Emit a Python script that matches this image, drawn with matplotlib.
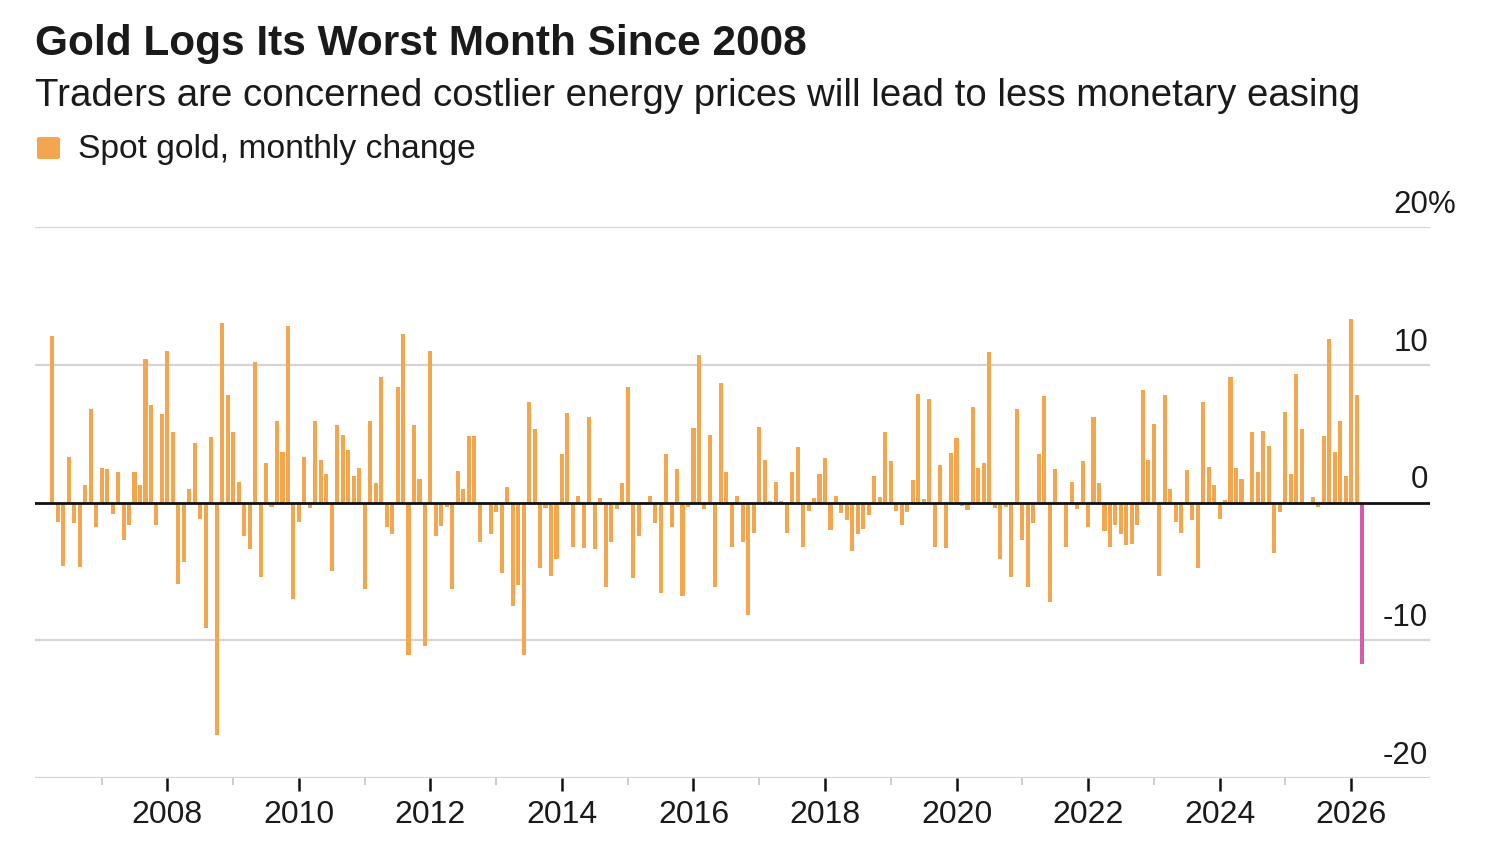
import numpy as np
import pandas as pd
import matplotlib
matplotlib.use("Agg")
import matplotlib.pyplot as plt
from matplotlib.patches import FancyBboxPatch

plt.rcParams['font.family'] = ['Liberation Sans', 'DejaVu Sans']

# ---------------- data ----------------
start_month = "2006-04-01"
monthly_change = [
    12.1, -1.4, -4.6, 3.3, -1.5, -4.7, 1.3, 6.8, -1.8, 2.5, 2.4, -0.8, 2.2, -2.7, -1.6, 2.2, 1.3, 10.4, 7.1, -1.6, 6.4,
    11.0, 5.1, -5.9, -4.3, 1.0, 4.3, -1.2, -9.1, 4.75, -16.9, 13.0, 7.8, 5.1, 1.5, -2.4, -3.4, 10.2, -5.4, 2.9,
    -0.3, 5.9, 3.7, 12.8, -7.0, -1.4, 3.3, -0.4, 5.9, 3.1, 2.1, -5.0, 5.6, 4.9, 3.8, 1.9, 2.5, -6.3, 5.9, 1.4, 9.1,
    -1.8, -2.3, 8.4, 12.2, -11.1, 5.6, 1.7, -10.4, 11.0, -2.4, -1.7, -0.3, -6.3, 2.3, 1.0, 4.8, 4.8, -2.9, -0.2, -2.3, -0.7,
    -5.1, 1.1, -7.5, -6.0, -11.05, 7.3, 5.3, -4.75, -0.4, -5.3, -4.1, 3.5, 6.5, -3.2, 0.5, -3.3, 6.2, -3.4, 0.3, -6.1, -2.9,
    -0.5, 1.4, 8.4, -5.5, -2.4, -0.1, 0.5, -1.5, -6.6, 3.5, -1.8, 2.4, -6.8, -0.3, 5.4, 10.7, -0.5, 4.9, -6.1, 8.7, 2.2,
    -3.2, 0.5, -2.9, -8.2, -2.2, 5.5, 3.1, 0.1, 1.5, 0.1, -2.2, 2.2, 4.0, -3.2, -0.6, 0.3, 2.1, 3.2, -2.0, 0.5, -0.75,
    -1.3, -3.5, -2.3, -1.9, -0.9, 1.9, 0.4, 5.1, 3.0, -0.6, -1.6, -0.7, 1.6, 7.9, 0.25, 7.5, -3.2, 2.7, -3.3, 3.6, 4.7,
    -0.25, -0.55, 6.9, 2.5, 2.9, 10.9, -0.4, -4.1, -0.3, -5.4, 6.8, -2.7, -6.1, -1.5, 3.5, 7.7, -7.2, 2.4, -0.05, -3.2, 1.5,
    -0.5, 3.0, -1.8, 6.2, 1.4, -2.1, -3.2, -1.6, -2.3, -3.1, -3.0, -1.6, 8.2, 3.1, 5.7, -5.3, 7.8, 1.0, -1.4, -2.2, 2.35,
    -1.3, -4.75, 7.3, 2.6, 1.3, -1.2, 0.2, 9.1, 2.5, 1.7, 0.0, 5.1, 2.2, 5.2, 4.1, -3.7, -0.7, 6.6, 2.1, 9.3, 5.3,
    0.0, 0.4, -0.3, 4.8, 11.9, 3.7, 5.9, 1.9, 13.3, 7.8, -11.7,
]
months = pd.date_range(start_month, periods=len(monthly_change), freq="MS")
y_ticks = [-20, -10, 0, 10, 20]
y_tick_labels = ["-20", "-10", "0", "10", "20"]
major_years = list(range(2008, 2027, 2))

title = "Gold Logs Its Worst Month Since 2008"
subtitle = "Traders are concerned costlier energy prices will lead to less monetary easing"
legend_label = "Spot gold, monthly change"

ORANGE = "#F4A64E"
PINK = "#D65BB0"
TEXT = "#1a1a1a"
GRID = "#d4d4d4"

W, H = 1500, 850
fig = plt.figure(figsize=(W / 100, H / 100), dpi=100)
fig.patch.set_facecolor("white")

ax = fig.add_axes([35 / W, 1 - 778 / H, (1430 - 35) / W, (778 - 227) / H])
x = np.arange(len(monthly_change))
colors = [ORANGE] * (len(monthly_change) - 1) + [PINK]
ax.bar(x, monthly_change, width=0.74, color=colors, zorder=3, linewidth=0)

ax.set_xlim(-3.16, 251.4)
ax.set_ylim(-20, 20)
for s in ax.spines.values():
    s.set_visible(False)

for v in y_ticks:
    if v == 0:
        ax.axhline(v, color="#111111", lw=2.0, zorder=4)
    else:
        ax.axhline(v, color=GRID, lw=1.6, zorder=1)

ax.set_yticks([])
ytrans = ax.get_yaxis_transform()
for v, lab in zip(y_ticks, y_tick_labels):
    ax.annotate(lab, xy=(1.0, v), xycoords=ytrans, xytext=(-2, 14),
                textcoords="offset pixels", ha="right", va="baseline",
                fontsize=22.5, color=TEXT)
    if v == 20:
        ax.annotate("%", xy=(1.0, v), xycoords=ytrans, xytext=(-2, 14),
                    textcoords="offset pixels", ha="left", va="baseline",
                    fontsize=22.5, color=TEXT)

jan_idx = [i for i, m in enumerate(months) if m.month == 1]
major = [i for i in jan_idx if months[i].year in major_years]
minor = [i for i in jan_idx if months[i].year not in major_years]
ax.set_xticks(major)
ax.set_xticklabels([str(months[i].year) for i in major])
ax.set_xticks(minor, minor=True)
ax.tick_params(axis="x", which="major", length=9, width=1.8, color="#111111",
               labelsize=23, labelcolor=TEXT, pad=7)
ax.tick_params(axis="x", which="minor", length=5, width=1.2, color="#c4c4c4")

# ---------------- header ----------------
fig.canvas.draw()
renderer = fig.canvas.get_renderer()


def fit_text(xpx, ypx, s, target_w, fs, **kw):
    t = fig.text(xpx / W, 1 - ypx / H, s, fontsize=fs, va="baseline", ha="left",
                 color=TEXT, **kw)
    w = t.get_window_extent(renderer).width
    t.set_fontsize(fs * target_w / w)
    return t


fit_text(35, 55, title, 771, 30, fontweight="bold")
fit_text(35, 106, subtitle, 1327, 25)
fit_text(78, 158, legend_label, 397, 22)

fig.add_artist(FancyBboxPatch((37 / W, 1 - 159 / H), 23 / W, 22 / H,
                              boxstyle="round,pad=0,rounding_size=0.002",
                              transform=fig.transFigure, color=ORANGE, lw=0))

fig.savefig("out.png", dpi=100, facecolor="white")
